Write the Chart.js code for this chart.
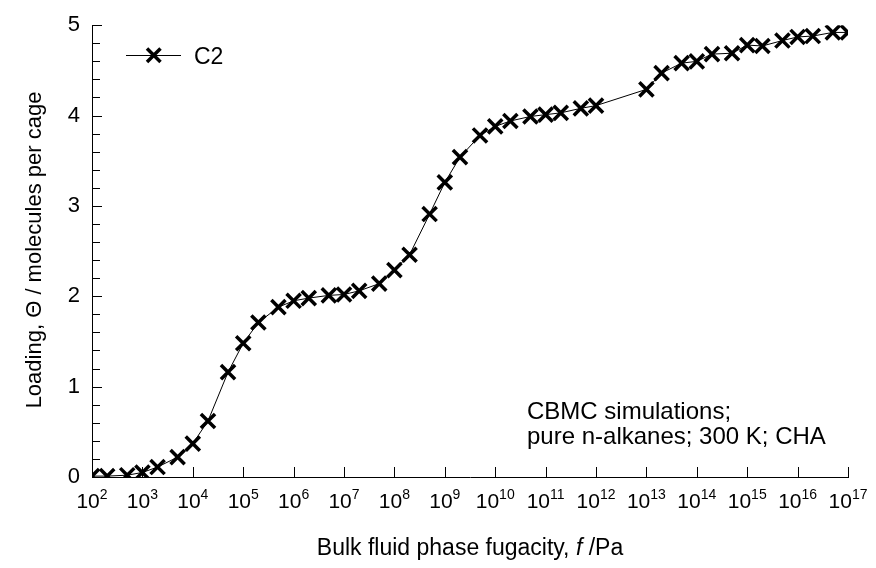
<!DOCTYPE html>
<html>
<head>
<meta charset="utf-8">
<script src="https://cdn.jsdelivr.net/npm/chart.js@4/dist/chart.umd.min.js"></script>
<style>
  html, body { margin: 0; padding: 0; background: #fff; }
  #wrap { width: 876px; height: 568px; }
</style>
</head>
<body>
<div id="wrap"><canvas id="loading-chart" width="876" height="568"></canvas></div>
<script>
// C2 in CHA, CBMC, 300 K
const fugacity = [
    1e2, 2e2, 5e2, 1e3, 2e3, 5e3, 1e4, 2e4, 5e4, 1e5, 2e5, 5e5,
    1e6, 2e6, 5e6, 1e7, 2e7, 5e7, 1e8, 2e8, 5e8, 1e9, 2e9, 5e9,
    1e10, 2e10, 5e10, 1e11, 2e11, 5e11, 1e12,
    1e13, 2e13, 5e13, 1e14, 2e14, 5e14, 1e15, 2e15, 5e15, 1e16, 2e16, 5e16, 1e17
];
const loadingC2 = [
    0.01, 0.01, 0.02, 0.05, 0.11, 0.22, 0.37, 0.62, 1.16, 1.48, 1.71, 1.88,
    1.95, 1.98, 2.01, 2.02, 2.06, 2.14, 2.29, 2.46, 2.91, 3.26, 3.54, 3.78,
    3.88, 3.94, 3.99, 4.01, 4.03, 4.08, 4.11,
    4.29, 4.47, 4.58, 4.60, 4.68, 4.69, 4.78, 4.77, 4.83, 4.87, 4.88, 4.92, 4.92
];
const xTickExponents = [2, 3, 4, 5, 6, 7, 8, 9, 10, 11, 12, 13, 14, 15, 16, 17];
const yTicks = [0, 1, 2, 3, 4, 5];
const seriesLabel = "C2";
const noteLines = ["CBMC simulations;", "pure n-alkanes; 300 K; CHA"];

const FONT = "'Liberation Sans', Arial, sans-serif";

const axisDecor = {
    id: "axisDecor",
    afterDraw(chart) {
        const ctx = chart.ctx;
        const xs = chart.scales.x, ys = chart.scales.y;
        const a = chart.chartArea;
        ctx.save();
        ctx.strokeStyle = "#000";
        ctx.lineWidth = 1;

        // inward ticks on the x axis, one per decade
        ctx.beginPath();
        xTickExponents.forEach(k => {
            const px = Math.round(xs.getPixelForValue(Math.pow(10, k))) + 0.5;
            ctx.moveTo(px, a.bottom);
            ctx.lineTo(px, a.bottom - 10);
        });
        // inward ticks on the y axis, minor every 0.2
        for (let i = 0; i <= 25; i++) {
            const v = i / 5;
            const py = Math.round(ys.getPixelForValue(v)) + 0.5;
            ctx.moveTo(a.left, py);
            ctx.lineTo(a.left + (i % 5 === 0 ? 10 : 8), py);
        }
        ctx.stroke();

        // decade labels 10^k
        ctx.fillStyle = "#000";
        ctx.textBaseline = "alphabetic";
        ctx.textAlign = "left";
        xTickExponents.forEach(k => {
            const px = xs.getPixelForValue(Math.pow(10, k));
            ctx.font = "21px " + FONT;
            const wb = ctx.measureText("10").width;
            ctx.font = "14px " + FONT;
            const we = ctx.measureText(String(k)).width;
            const x0 = px - (wb + we) / 2;
            ctx.font = "21px " + FONT;
            ctx.fillText("10", x0, 508);
            ctx.font = "14px " + FONT;
            ctx.fillText(String(k), x0 + wb, 499);
        });

        // x title with italic f
        const parts = [
            ["Bulk fluid phase fugacity, ", "23px " + FONT],
            ["f", "italic 23px " + FONT],
            [" /Pa", "23px " + FONT]
        ];
        let total = 0;
        parts.forEach(p => { ctx.font = p[1]; total += ctx.measureText(p[0]).width; });
        let tx = 470 - total / 2;
        parts.forEach(p => {
            ctx.font = p[1];
            ctx.fillText(p[0], tx, 555);
            tx += ctx.measureText(p[0]).width;
        });

        // y title
        ctx.save();
        ctx.translate(35, 250);
        ctx.rotate(-Math.PI / 2);
        ctx.textAlign = "center";
        ctx.textBaseline = "middle";
        ctx.font = "22px " + FONT;
        ctx.fillText("Loading, \u0398 / molecules per cage", 0, 0);
        ctx.restore();

        // annotation
        ctx.font = "24px " + FONT;
        ctx.textAlign = "left";
        ctx.fillText(noteLines[0], 527, 419);
        ctx.fillText(noteLines[1], 527, 444);

        // legend
        ctx.beginPath();
        ctx.moveTo(126, 55.5);
        ctx.lineTo(181, 55.5);
        ctx.stroke();
        ctx.lineWidth = 3.5;
        ctx.beginPath();
        ctx.moveTo(147, 48.5); ctx.lineTo(160.5, 62);
        ctx.moveTo(160.5, 48.5); ctx.lineTo(147, 62);
        ctx.stroke();
        ctx.font = "23px " + FONT;
        ctx.fillText(seriesLabel, 194, 64);
        ctx.restore();
    }
};

new Chart(document.getElementById("loading-chart").getContext("2d"), {
    type: "line",
    data: {
        datasets: [{
            label: seriesLabel,
            data: fugacity.map((f, i) => ({ x: f, y: loadingC2[i] })),
            borderColor: "#000",
            borderWidth: 1,
            pointStyle: "crossRot",
            pointRadius: 10,
            pointBorderWidth: 3.5,
            pointBorderColor: "#000",
            fill: false,
            tension: 0
        }]
    },
    options: {
        responsive: false,
        animation: false,
        devicePixelRatio: 1,
        layout: { padding: { left: 0, top: 23, right: 28, bottom: 0 } },
        plugins: { legend: { display: false }, tooltip: { enabled: false } },
        scales: {
            x: {
                type: "logarithmic",
                min: 1e2,
                max: 1e17,
                grid: { display: false, drawTicks: false },
                border: { display: true, color: "#000", width: 1 },
                ticks: { display: false },
                afterFit(s) { s.height = 91; }
            },
            y: {
                min: 0,
                max: 5,
                grid: { display: false, drawTicks: false },
                border: { display: true, color: "#000", width: 1 },
                afterBuildTicks(s) { s.ticks = yTicks.map(v => ({ value: v })); },
                ticks: {
                    color: "#000",
                    padding: 12,
                    font: { family: FONT, size: 22 }
                },
                afterFit(s) { s.width = 92; }
            }
        }
    },
    plugins: [axisDecor]
});
</script>
</body>
</html>
